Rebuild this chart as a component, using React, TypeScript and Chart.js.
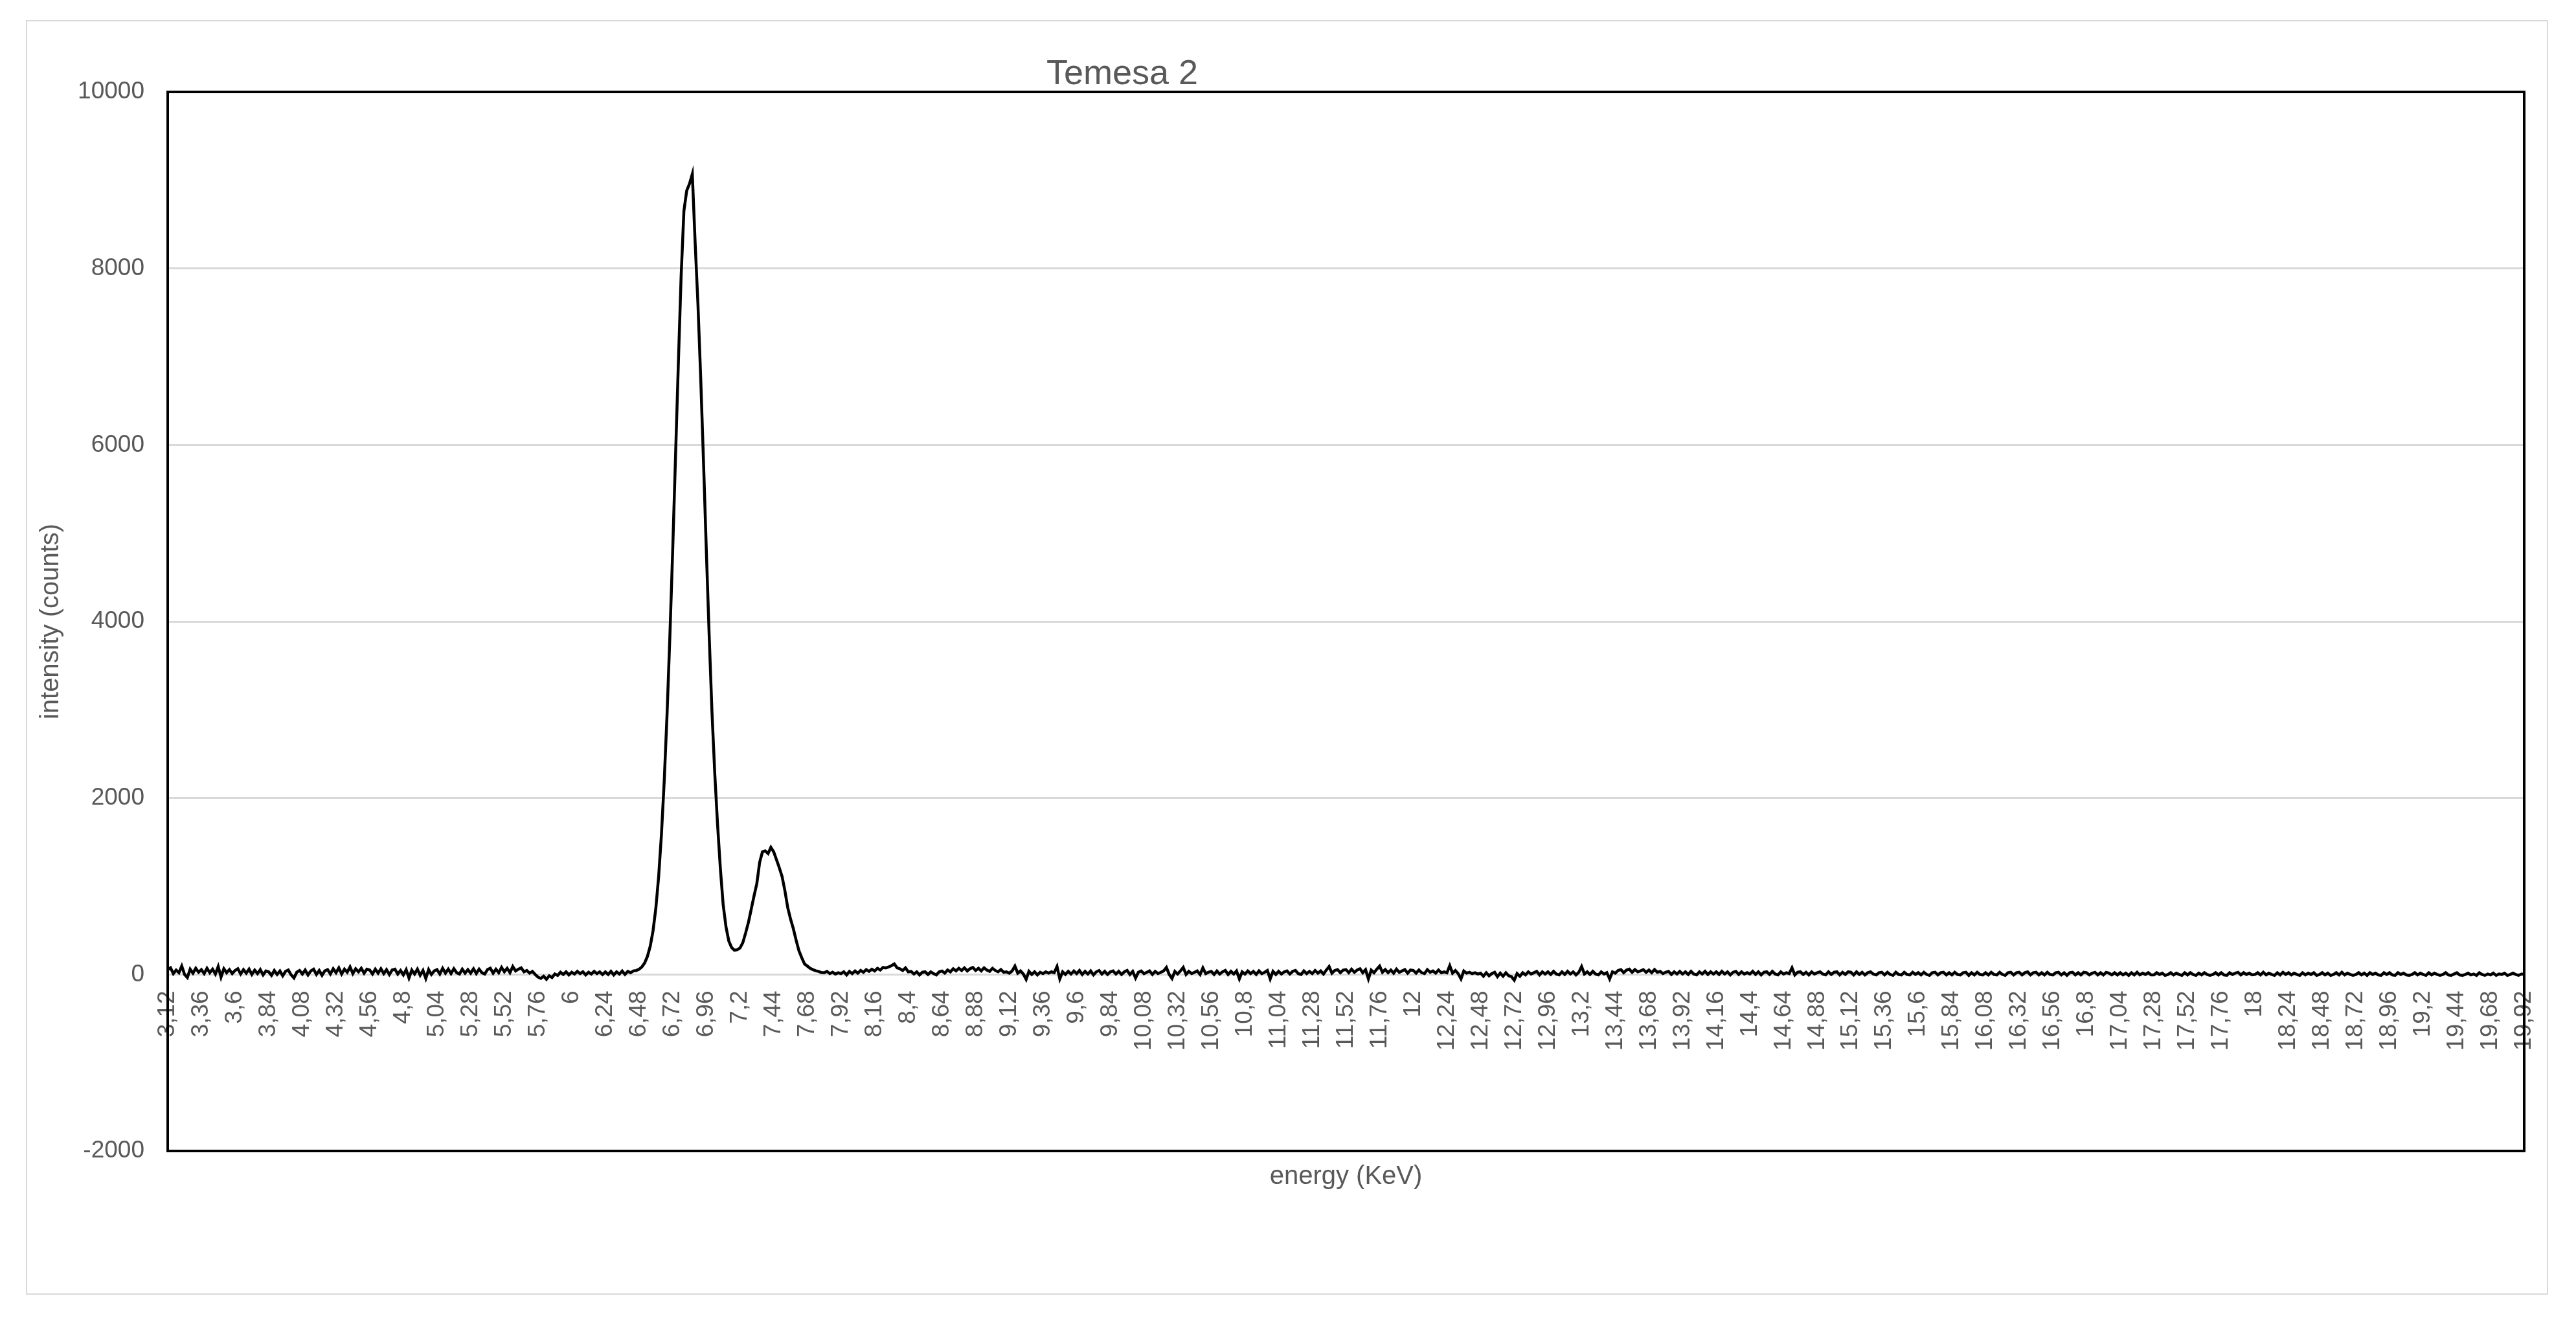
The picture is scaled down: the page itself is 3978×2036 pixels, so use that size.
import { useEffect, useRef } from 'react';
import { Chart, registerables } from 'chart.js';

Chart.register(...registerables);

const chartTitle = 'Temesa 2';
const xAxisTitle = 'energy (KeV)';
const yAxisTitle = 'intensity (counts)';

// x tick labels (every 12th channel, 0.24 keV apart)
const energyTickLabels = [
  '3,12', '3,36', '3,6', '3,84', '4,08', '4,32', '4,56', '4,8', '5,04', '5,28', '5,52', '5,76',
  '6', '6,24', '6,48', '6,72', '6,96', '7,2', '7,44', '7,68', '7,92', '8,16', '8,4', '8,64',
  '8,88', '9,12', '9,36', '9,6', '9,84', '10,08', '10,32', '10,56', '10,8', '11,04', '11,28', '11,52',
  '11,76', '12', '12,24', '12,48', '12,72', '12,96', '13,2', '13,44', '13,68', '13,92', '14,16', '14,4',
  '14,64', '14,88', '15,12', '15,36', '15,6', '15,84', '16,08', '16,32', '16,56', '16,8', '17,04', '17,28',
  '17,52', '17,76', '18', '18,24', '18,48', '18,72', '18,96', '19,2', '19,44', '19,68', '19,92',
];

const channelsPerTick = 12;

// intensity (counts), one value per 0.02 keV channel, 3.12 .. 19.92 keV (one row = 0.24 keV)
const intensity = [
  55, 75, 10, 50, 20, 95, 0, -35, 60, 15, 70, 25,
  55, 10, 70, 20, 60, 5, 90, -30, 65, 20, 55, 10,
  45, 65, 5, 55, 15, 60, 0, 50, 10, 55, -5, 40,
  30, -10, 45, 0, 40, -15, 35, 50, -5, -40, 25, 45,
  5, 50, -5, 40, 60, 0, 45, -10, 40, 55, 5, 65,
  20, 75, 5, 60, 25, 85, 10, 65, 30, 70, 15, 60,
  50, 5, 60, 15, 65, 10, 55, 0, 50, 60, 5, 45,
  -5, 55, -40, 50, 5, 60, -10, 45, -45, 55, 0, 40,
  55, 5, 70, 15, 60, 10, 65, 20, 5, 60, 15, 55,
  15, 65, 10, 60, 20, 5, 55, 70, 15, 60, 20, 80,
  30, 70, 20, 90, 40, 60, 75, 30, 45, 15, 35, 0,
  -30, -45, -20, -55, -15, -35, 5, -10, 25, 0, 30, -5,
  25, 5, 35, 10, 30, -5, 25, 5, 35, 10, 30, 0,
  30, 0, 35, -5, 30, 5, 40, 0, 35, 20, 40, 45,
  58, 85, 130, 205, 320, 495, 750, 1110, 1590, 2200, 2950, 3830,
  4800, 5850, 6900, 7900, 8650, 8880, 8960, 9070, 8300, 7600, 6750, 5800,
  4800, 3850, 2980, 2280, 1700, 1200, 790, 540, 380, 305, 275, 280,
  300, 360, 470, 590, 740, 890, 1030, 1270, 1390, 1400, 1370, 1440,
  1390, 1300, 1210, 1110, 950, 760, 630, 520, 390, 270, 190, 120,
  95, 70, 55, 42, 35, 22, 20, 35, 10, 25, 5, 20,
  10, 30, -5, 35, 10, 40, 15, 45, 25, 55, 35, 60,
  40, 70, 50, 80, 75, 85, 100, 120, 75, 65, 45, 75,
  30, 35, 5, 30, -5, 25, 30, 0, 30, 10, -5, 30,
  40, 15, 50, 30, 65, 40, 70, 45, 75, 40, 65, 80,
  45, 70, 40, 75, 50, 35, 70, 45, 30, 55, 25, 30,
  15, 40, 95, 15, 40, 5, -55, 35, 0, 30, -5, 25,
  10, 30, 15, 30, 20, 90, -50, 30, 0, 35, 5, 40,
  10, 45, 0, 35, 5, 40, -5, 30, 45, 5, 35, 0,
  30, 40, 5, 35, 0, 30, 45, 0, 35, -40, 25, 40,
  10, 25, 40, 0, 35, 10, 25, 40, 80, 0, -45, 35,
  5, 40, 80, 0, 35, 10, 25, 40, 0, 75, 10, 25,
  35, 0, 40, 5, 30, 45, 0, 35, 5, 40, -50, 30,
  5, 40, 10, 35, 0, 40, 10, 25, 45, -50, 35, 0,
  35, 5, 30, 40, 5, 35, 45, 10, 0, 40, 10, 35,
  10, 45, 15, 40, 5, 50, 90, 15, 45, 55, 20, 50,
  55, 20, 60, 25, 50, 65, 20, 55, -50, 50, 20, 60,
  95, 25, 55, 20, 50, 15, 60, 25, 40, 55, 15, 50,
  45, 15, 50, 20, 10, 55, 25, 40, 15, 50, 20, 30,
  20, 100, 15, 45, 10, -50, 40, 15, 25, 10, 20, 5,
  15, -20, 20, -15, 10, 25, -25, 15, -20, 20, -15, -25,
  -65, 10, -20, 20, -5, 30, 5, 20, 35, -5, 30, 5,
  30, 0, 35, 5, -5, 30, 0, 35, 5, 30, -5, 25,
  90, 5, 30, 0, 35, 5, -5, 30, 5, 20, -50, 30,
  15, 45, 55, 20, 50, 60, 25, 55, 30, 40, 55, 25,
  50, 20, 55, 25, 35, 10, 25, 35, 0, 30, 5, 35,
  5, 30, 0, 35, 5, -5, 30, 5, 35, 0, 30, 5,
  30, 0, 35, 5, 30, -5, 25, 35, 0, 30, 5, 20,
  5, 35, 0, 30, -5, 25, 30, 0, 35, 5, -5, 30,
  5, 20, 10, 75, -5, 25, 30, 0, 25, -5, 30, 5,
  20, 30, 5, -5, 30, 0, 25, 30, -5, 25, 0, 30,
  25, -5, 30, 0, 25, -5, 20, 30, 5, -5, 20, 25,
  -5, 25, 0, -10, 25, 0, -5, 25, 0, -5, 25, 0,
  20, -5, 25, 0, -10, 20, 25, -5, 20, 25, -5, 20,
  -5, 25, 0, -5, 20, 25, -10, 20, -5, 25, 0, -5,
  20, -5, 25, 0, -5, 25, 0, -10, 20, 25, -5, 20,
  25, -5, 20, 30, -5, 20, 25, -5, 20, -5, 25, 0,
  -5, 20, 25, -5, 20, -10, 20, 25, -5, 20, -5, 25,
  20, -5, 15, 25, -5, 20, -5, 25, 15, -5, 20, -5,
  20, -5, 15, -10, 20, -5, 25, -5, 15, 0, 20, -5,
  -5, 20, 0, 15, -10, 0, 20, -5, 15, 0, -10, 20,
  -5, 20, 0, -10, 15, -5, 20, 0, -10, 0, 20, -5,
  20, -5, -10, 20, 0, 15, 25, -5, 20, 0, 15, -5,
  0, 20, -5, 25, -5, 15, 0, -10, 20, -5, 25, 0,
  20, -5, 15, 0, -10, 20, -5, 15, 0, 20, -10, 0,
  20, -5, 15, -10, 0, 20, -5, 25, -5, 15, 0, -10,
  0, 20, -5, 15, -10, 20, 0, 15, -5, -10, 20, 0,
  20, -5, -10, 20, 0, 15, -5, -10, 0, 20, -5, 15,
  0, -10, 20, -5, 15, 0, -10, 0, 20, -5, -10, 5,
  20, -5, -10, 0, 15, -5, 5, -10, 20, 0, -10, 5,
  -5, 15, -10, 5, 0, 15, -10, 0, 15, 0, -10, 5,
  5,
];

const yMin = -2000;
const yMax = 10000;
const yStep = 2000;

const FONT = '"Liberation Sans", Arial, sans-serif';
const TEXT_GRAY = '#595959';

const decorPlugin = {
  id: 'frameAndTitles',
  afterDraw(chart: any) {
    const { ctx, chartArea: a, width } = chart;
    ctx.save();
    ctx.strokeStyle = '#000000';
    ctx.lineWidth = 4;
    ctx.strokeRect(a.left, a.top, a.right - a.left, a.bottom - a.top);

    ctx.fillStyle = TEXT_GRAY;
    ctx.textAlign = 'center';
    ctx.textBaseline = 'alphabetic';
    ctx.font = `54px ${FONT}`;
    ctx.fillText(chartTitle, width * 0.4346, 97);

    ctx.font = `40px ${FONT}`;
    ctx.fillText(xAxisTitle, (a.left + a.right) / 2, a.bottom + 51);

    ctx.translate(48, (a.top + a.bottom) / 2);
    ctx.rotate(-Math.PI / 2);
    ctx.fillText(yAxisTitle, 0, 0);
    ctx.restore();
  },
};

export default function App() {
  const canvasRef = useRef<HTMLCanvasElement | null>(null);

  useEffect(() => {
    const canvas = canvasRef.current;
    if (!canvas) return;
    const labels = intensity.map((_, i) =>
      i % channelsPerTick === 0 ? energyTickLabels[i / channelsPerTick] ?? '' : ''
    );
    const chart = new Chart(canvas, {
      type: 'line',
      data: {
        labels,
        datasets: [
          {
            label: chartTitle,
            data: intensity,
            borderColor: '#000000',
            borderWidth: 4.5,
            pointRadius: 0,
            pointHoverRadius: 0,
            tension: 0,
            fill: false,
          },
        ],
      },
      options: {
        animation: false,
        responsive: false,
        maintainAspectRatio: false,
        devicePixelRatio: 1,
        events: [],
        layout: { padding: { left: 0, top: 109, right: 35, bottom: 220 } },
        plugins: {
          legend: { display: false },
          title: { display: false },
          tooltip: { enabled: false },
        },
        scales: {
          x: {
            type: 'category',
            position: { y: 0 } as any,
            offset: false,
            afterFit: (scale: any) => {
              scale.paddingLeft = 0;
              scale.paddingRight = 0;
            },
            grid: { display: false, drawTicks: false },
            border: { display: false },
            ticks: {
              autoSkip: false,
              maxRotation: 90,
              minRotation: 90,
              padding: 25,
              color: TEXT_GRAY,
              font: { family: FONT, size: 37 },
            },
          },
          y: {
            type: 'linear',
            min: yMin,
            max: yMax,
            afterFit: (scale: any) => {
              scale.width = 217;
            },
            grid: { color: '#d9d9d9', lineWidth: 3, drawTicks: false },
            border: { display: false },
            ticks: {
              stepSize: yStep,
              padding: 36,
              color: TEXT_GRAY,
              font: { family: FONT, size: 37 },
              callback: (value: any) => String(value),
            },
          },
        },
      },
      plugins: [decorPlugin],
    });
    return () => chart.destroy();
  }, []);

  return (
    <div
      style={{
        position: 'absolute',
        left: 40,
        top: 31,
        width: 3895,
        height: 1969,
        border: '2px solid #d9d9d9',
        boxSizing: 'border-box',
        background: '#ffffff',
      }}
    >
      <canvas ref={canvasRef} width={3891} height={1965} style={{ display: 'block', width: 3891, height: 1965 }} />
    </div>
  );
}
